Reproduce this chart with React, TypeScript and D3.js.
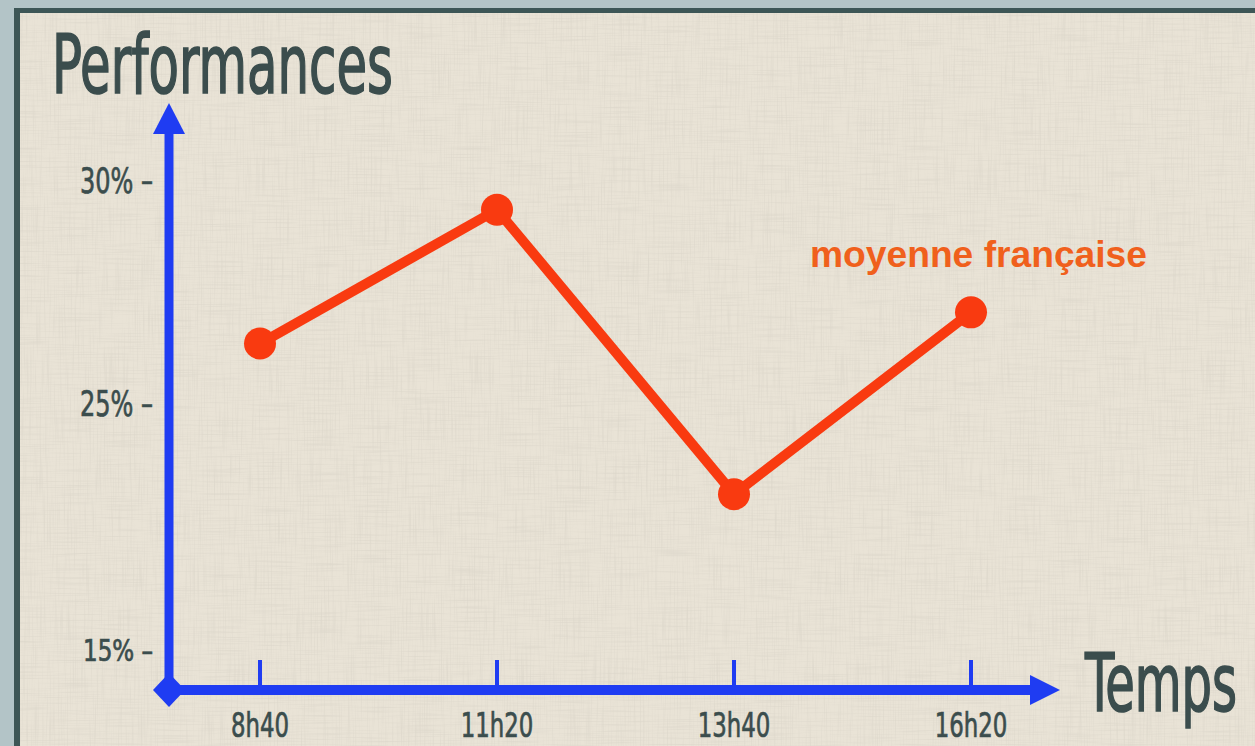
import React, { useEffect, useRef } from 'react';
import * as d3 from 'd3';

// données
const times = ['8h40', '11h20', '13h40', '16h20'];
const moyenne = [26.4, 29.4, 21.4, 27.1];
const yTicks = [15, 25, 30];
const seriesLabel = 'moyenne française';
const yTitle = 'Performances';
const xTitle = 'Temps';

const W = 1255;
const H = 746;
const BLUE = '#1f3cf2';
const RED = '#f93a10';
const INK = '#3b4d4d';
const condensed = "'Liberation Sans Narrow', 'DejaVu Sans Condensed', 'Roboto Condensed', sans-serif";

const App: React.FC = () => {
  const svgRef = useRef<SVGSVGElement>(null);

  useEffect(() => {
    if (!svgRef.current) return;
    const svg = d3.select(svgRef.current);
    svg.selectAll('*').remove();

    // axe des y "cassé" : 15 -> 25 plus serré que 25 -> 30
    const y = d3.scaleLinear().domain([15, 25, 30]).range([651, 406, 183]);
    const x = d3.scalePoint<string>().domain(times).range([260, 971]);
    const ox = 169;
    const oy = 690;

    // texture toile
    const defs = svg.append('defs');
    const f = defs.append('filter').attr('id', 'linen')
      .attr('x', 0).attr('y', 0).attr('width', '100%').attr('height', '100%');
    f.append('feTurbulence').attr('type', 'fractalNoise')
      .attr('baseFrequency', '0.7 0.02').attr('numOctaves', 2).attr('seed', 4).attr('result', 'v');
    f.append('feColorMatrix').attr('in', 'v').attr('type', 'matrix')
      .attr('values', '0 0 0 0 0.45  0 0 0 0 0.43  0 0 0 0 0.38  1.6 0 0 0 -0.75').attr('result', 'vc');
    f.append('feTurbulence').attr('type', 'fractalNoise')
      .attr('baseFrequency', '0.02 0.7').attr('numOctaves', 2).attr('seed', 9).attr('result', 'h');
    f.append('feColorMatrix').attr('in', 'h').attr('type', 'matrix')
      .attr('values', '0 0 0 0 0.45  0 0 0 0 0.43  0 0 0 0 0.38  1.6 0 0 0 -0.75').attr('result', 'hc');
    const merge = f.append('feMerge');
    merge.append('feMergeNode').attr('in', 'vc');
    merge.append('feMergeNode').attr('in', 'hc');

    // cadre
    svg.append('rect').attr('width', W).attr('height', H).attr('fill', '#b3c4c7');
    svg.append('rect').attr('x', 14).attr('y', 8).attr('width', W).attr('height', H).attr('fill', '#3d5656');
    svg.append('rect').attr('x', 20).attr('y', 13).attr('width', W).attr('height', H).attr('fill', '#e9e3d6');
    svg.append('rect').attr('x', 20).attr('y', 13).attr('width', W).attr('height', H)
      .attr('fill', '#fff').attr('filter', 'url(#linen)').attr('opacity', 0.25);

    // titres
    svg.append('text').attr('x', 52).attr('y', 93)
      .attr('font-family', condensed).attr('font-stretch', 'condensed')
      .attr('font-size', 82).attr('fill', INK).attr('stroke', INK).attr('stroke-width', 1.6)
      .attr('textLength', 341).attr('lengthAdjust', 'spacingAndGlyphs')
      .text(yTitle);
    svg.append('text').attr('x', 1085).attr('y', 711)
      .attr('font-family', condensed).attr('font-stretch', 'condensed')
      .attr('font-size', 80).attr('fill', INK).attr('stroke', INK).attr('stroke-width', 1.6)
      .attr('textLength', 152).attr('lengthAdjust', 'spacingAndGlyphs')
      .text(xTitle);

    // graduations y
    svg.append('g').selectAll('text').data(yTicks).join('text')
      .attr('x', 153).attr('y', d => y(d) + 10)
      .attr('text-anchor', 'end')
      .attr('font-family', condensed).attr('font-stretch', 'condensed')
      .attr('font-size', d => (d === 15 ? 30 : 36)).attr('fill', INK)
      .attr('stroke', INK).attr('stroke-width', 0.7)
      .attr('textLength', d => (d === 15 ? 70 : 73)).attr('lengthAdjust', 'spacingAndGlyphs')
      .text(d => `${d}% –`);

    // axes
    const axes = svg.append('g').attr('fill', BLUE).attr('stroke', BLUE);
    axes.append('line').attr('x1', ox).attr('x2', ox).attr('y1', oy).attr('y2', 130)
      .attr('stroke-width', 9);
    axes.append('path').attr('stroke', 'none')
      .attr('d', `M${ox},103 L${ox + 16},134 L${ox - 16},134 Z`);
    axes.append('line').attr('x1', ox).attr('x2', 1035).attr('y1', oy).attr('y2', oy)
      .attr('stroke-width', 10);
    axes.append('path').attr('stroke', 'none')
      .attr('d', `M1060,${oy} L1030,${oy - 15} L1030,${oy + 15} Z`);
    axes.append('path').attr('stroke', 'none')
      .attr('d', `M${ox},${oy - 17} L${ox + 16},${oy} L${ox},${oy + 17} L${ox - 16},${oy} Z`);
    axes.selectAll('line.tick').data(times).join('line').attr('class', 'tick')
      .attr('x1', d => x(d)!).attr('x2', d => x(d)!)
      .attr('y1', 660).attr('y2', oy).attr('stroke-width', 4);

    // graduations x
    svg.append('g').selectAll('text').data(times).join('text')
      .attr('x', d => x(d)!).attr('y', 737)
      .attr('text-anchor', 'middle')
      .attr('font-family', condensed).attr('font-stretch', 'condensed')
      .attr('font-size', 34).attr('fill', INK).attr('stroke', INK).attr('stroke-width', 0.7)
      .attr('textLength', d => d.length * 14.5).attr('lengthAdjust', 'spacingAndGlyphs')
      .text(d => d);

    // série
    const pts = times.map((t, i) => [x(t)!, y(moyenne[i])] as [number, number]);
    svg.append('path').attr('d', d3.line()(pts)!)
      .attr('fill', 'none').attr('stroke', RED).attr('stroke-width', 10)
      .attr('stroke-linejoin', 'round');
    svg.append('g').selectAll('circle').data(pts).join('circle')
      .attr('cx', d => d[0]).attr('cy', d => d[1]).attr('r', 16).attr('fill', RED);

    svg.append('text').attr('x', 810).attr('y', 267)
      .attr('font-family', "'Liberation Sans', Arial, sans-serif").attr('font-weight', 'bold')
      .attr('font-size', 36).attr('fill', '#f0601c')
      .attr('textLength', 337).attr('lengthAdjust', 'spacingAndGlyphs')
      .text(seriesLabel);
  }, []);

  return (
    <div style={{ position: 'fixed', left: 0, top: 0, width: W, height: H, overflow: 'hidden' }}>
      <svg ref={svgRef} width={W} height={H} style={{ display: 'block' }} />
    </div>
  );
};

export default App;
